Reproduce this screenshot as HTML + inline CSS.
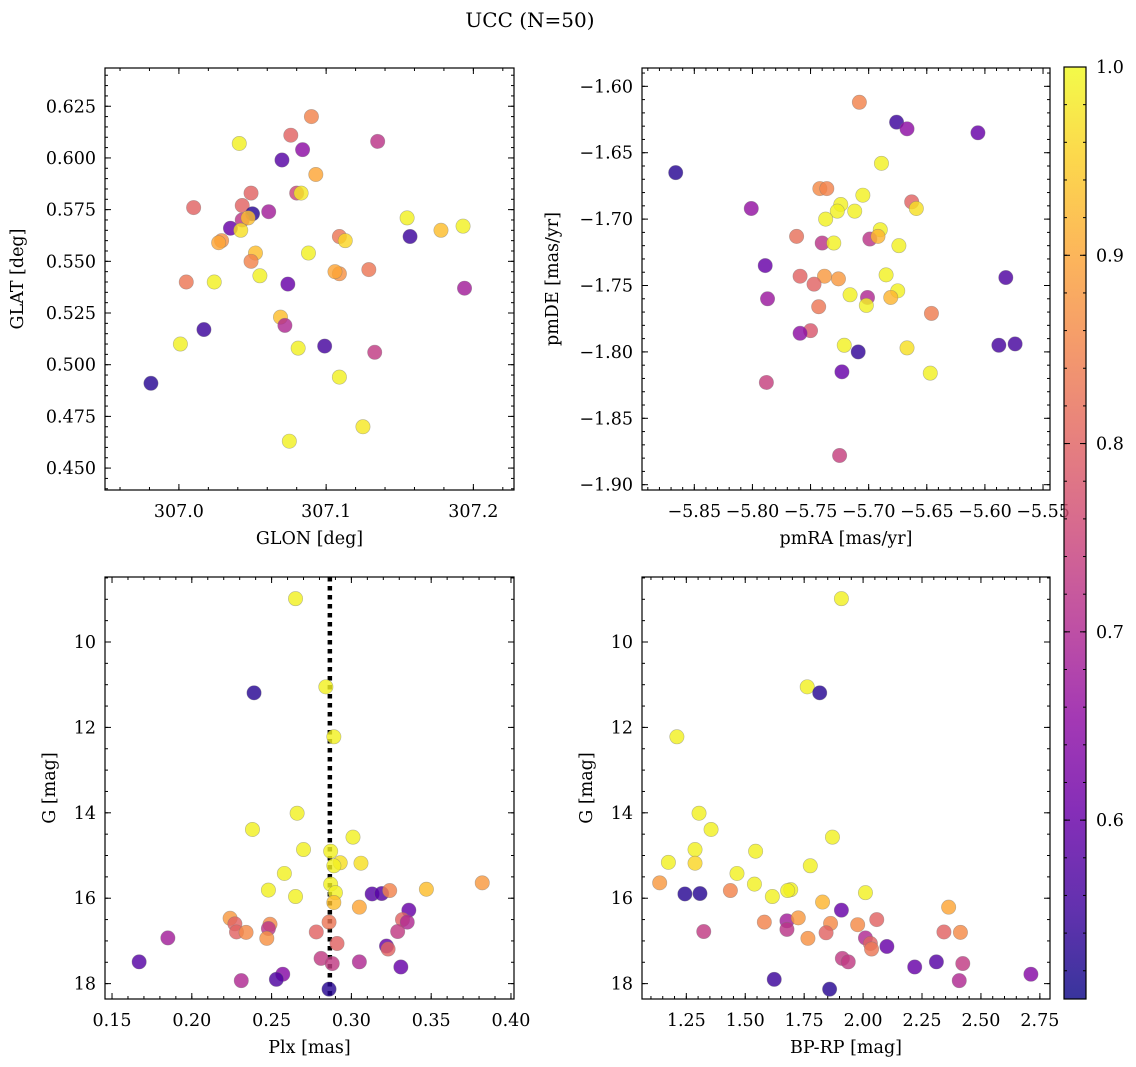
<!DOCTYPE html>
<html><head><meta charset="utf-8">
<style>
html,body{margin:0;padding:0;background:#fff;}
svg{display:block;font-family:"DejaVu Serif","Liberation Serif",serif;}
</style></head>
<body>
<svg id="fig" width="1136" height="1067" viewBox="0 0 1136 1067" xmlns="http://www.w3.org/2000/svg">
<defs>
<linearGradient id="plasma" x1="0" y1="1" x2="0" y2="0">
<stop offset="0" stop-color="#0d0887"/><stop offset="0.1" stop-color="#41049d"/><stop offset="0.2" stop-color="#6a00a8"/><stop offset="0.3" stop-color="#8f0da4"/><stop offset="0.4" stop-color="#b12a90"/><stop offset="0.5" stop-color="#cc4778"/><stop offset="0.6" stop-color="#e16462"/><stop offset="0.7" stop-color="#f2844b"/><stop offset="0.8" stop-color="#fca636"/><stop offset="0.9" stop-color="#fcce25"/><stop offset="1" stop-color="#f0f921"/>
</linearGradient>
</defs>
<text x="530" y="27" font-size="20" text-anchor="middle">UCC (N=50)</text>
</svg>
<script>
// ---- Panel 1: GLON vs GLAT ----
const glon1 = [307.090,307.076,307.041,307.135,307.084,307.070,307.093,307.049,307.080,307.083,307.010,307.043,307.050,307.061,307.043,307.047,307.035,307.042,307.155,307.178,307.193,307.157,307.029,307.027,307.109,307.113,307.088,307.052,307.049,307.005,307.024,307.055,307.109,307.106,307.129,307.074,307.194,307.069,307.072,307.017,307.001,307.081,307.099,307.133,306.981,307.109,307.125,307.075];
const glat1 = [0.620,0.611,0.607,0.608,0.604,0.599,0.592,0.583,0.583,0.583,0.576,0.577,0.573,0.574,0.570,0.571,0.566,0.565,0.571,0.565,0.567,0.562,0.560,0.559,0.562,0.560,0.554,0.554,0.550,0.540,0.540,0.543,0.544,0.545,0.546,0.539,0.537,0.523,0.519,0.517,0.510,0.508,0.509,0.506,0.491,0.494,0.470,0.463];
const prob1 = [0.85,0.80,0.99,0.72,0.65,0.58,0.90,0.80,0.75,0.98,0.80,0.80,0.53,0.68,0.72,0.93,0.60,0.97,0.99,0.93,0.99,0.55,0.87,0.90,0.83,0.96,0.99,0.93,0.85,0.83,0.99,0.99,0.87,0.90,0.83,0.60,0.68,0.93,0.70,0.55,0.99,0.99,0.56,0.73,0.53,0.99,0.98,0.99];
// ---- Panel 2: pmRA vs pmDE ----
const pmra2 = [-5.708,-5.676,-5.667,-5.606,-5.689,-5.866,-5.742,-5.736,-5.705,-5.801,-5.663,-5.659,-5.724,-5.727,-5.712,-5.737,-5.762,-5.690,-5.699,-5.692,-5.740,-5.730,-5.674,-5.789,-5.582,-5.759,-5.738,-5.726,-5.685,-5.747,-5.675,-5.681,-5.716,-5.701,-5.702,-5.787,-5.743,-5.646,-5.750,-5.759,-5.721,-5.709,-5.667,-5.588,-5.574,-5.723,-5.647,-5.788,-5.725];
const pmde2 = [-1.612,-1.627,-1.632,-1.635,-1.658,-1.665,-1.677,-1.677,-1.682,-1.692,-1.687,-1.692,-1.689,-1.694,-1.694,-1.700,-1.713,-1.708,-1.715,-1.713,-1.718,-1.718,-1.720,-1.735,-1.744,-1.743,-1.743,-1.745,-1.742,-1.749,-1.754,-1.759,-1.757,-1.759,-1.765,-1.760,-1.766,-1.771,-1.784,-1.786,-1.795,-1.800,-1.797,-1.795,-1.794,-1.815,-1.816,-1.823,-1.878];
const prob2 = [0.85,0.55,0.65,0.60,0.99,0.53,0.86,0.85,0.99,0.66,0.80,0.97,0.99,0.99,0.99,0.99,0.82,0.99,0.72,0.92,0.72,0.99,0.99,0.60,0.57,0.80,0.88,0.88,0.99,0.80,0.99,0.92,0.99,0.70,0.99,0.67,0.83,0.84,0.78,0.65,0.99,0.54,0.97,0.56,0.56,0.60,0.99,0.74,0.74];
// ---- Panel 3: Plx vs G ----
const plx3 = [0.265,0.239,0.284,0.289,0.266,0.238,0.301,0.270,0.287,0.293,0.306,0.289,0.258,0.382,0.287,0.248,0.347,0.290,0.313,0.319,0.324,0.265,0.289,0.305,0.336,0.224,0.227,0.249,0.286,0.332,0.335,0.248,0.228,0.234,0.278,0.329,0.247,0.185,0.291,0.322,0.323,0.281,0.288,0.305,0.167,0.331,0.257,0.253,0.231,0.286];
const g3 = [8.985,11.19,11.05,12.22,14.01,14.39,14.57,14.86,14.90,15.17,15.18,15.24,15.42,15.64,15.67,15.81,15.79,15.87,15.90,15.89,15.82,15.96,16.10,16.21,16.28,16.47,16.60,16.61,16.56,16.50,16.56,16.71,16.79,16.80,16.79,16.78,16.94,16.93,17.06,17.12,17.19,17.41,17.53,17.49,17.49,17.61,17.78,17.90,17.93,18.13];
const prob3 = [0.99,0.53,0.99,0.99,0.99,0.99,0.99,0.99,0.99,0.97,0.97,0.99,0.99,0.88,0.99,0.99,0.93,0.99,0.58,0.58,0.85,0.99,0.93,0.90,0.60,0.88,0.80,0.86,0.83,0.80,0.70,0.72,0.80,0.86,0.80,0.73,0.87,0.68,0.80,0.60,0.80,0.73,0.73,0.70,0.58,0.60,0.64,0.57,0.70,0.53];
const plxMedian = 0.2865;
// ---- Panel 4: BP-RP vs G ----
const bprp4 = [1.908,1.763,1.816,1.210,1.304,1.355,1.870,1.287,1.544,1.174,1.287,1.776,1.465,1.137,1.539,1.244,1.308,1.437,1.693,1.680,2.010,1.615,1.828,1.908,2.363,1.581,1.677,1.725,1.862,1.977,2.058,1.324,1.677,1.843,2.343,2.413,1.766,2.010,2.031,2.101,2.036,1.912,1.937,2.311,2.423,2.219,2.712,1.623,2.408,1.858];
const g4 = [8.985,11.05,11.19,12.22,14.01,14.39,14.57,14.86,14.90,15.16,15.18,15.24,15.42,15.64,15.67,15.90,15.89,15.82,15.80,15.82,15.87,15.96,16.09,16.28,16.21,16.56,16.53,16.46,16.59,16.62,16.50,16.78,16.73,16.81,16.79,16.80,16.94,16.93,17.06,17.13,17.19,17.41,17.49,17.49,17.53,17.61,17.78,17.90,17.93,18.13];
const prob4 = [0.99,0.99,0.53,0.99,0.99,0.99,0.99,0.99,0.99,0.99,0.96,0.99,0.99,0.88,0.99,0.53,0.53,0.85,0.99,0.99,0.99,0.99,0.92,0.60,0.90,0.85,0.68,0.88,0.86,0.86,0.80,0.73,0.72,0.80,0.80,0.86,0.87,0.70,0.80,0.60,0.83,0.73,0.73,0.58,0.73,0.60,0.64,0.55,0.70,0.53];
// ---- colorbar ----
const cbTicks = [0.6,0.7,0.8,0.9,1.0];
const cbMin = 0.505, cbMax = 1.0;

const NS = "http://www.w3.org/2000/svg";
const fig = document.getElementById('fig');
const stops = [[13,8,135],[65,4,157],[106,0,168],[143,13,164],[177,42,144],[204,71,120],[225,100,98],[242,132,75],[252,166,54],[252,206,37],[240,249,33]];
function plasma(v){
  let t = (v-cbMin)/(cbMax-cbMin); t=Math.max(0,Math.min(1,t));
  const f=t*10, i=Math.min(9,Math.floor(f)), r=f-i;
  const a=stops[i], b=stops[i+1];
  return 'rgb('+a.map((c,k)=>Math.round(c+(b[k]-c)*r)).join(',')+')';
}
function mk(tag, attrs, parent){
  const e=document.createElementNS(NS,tag);
  for(const k in attrs) e.setAttribute(k,attrs[k]);
  (parent||fig).appendChild(e); return e;
}
function fmt(v,d){ return (v<0?'\u2212':'')+Math.abs(v).toFixed(d); }
const FS = 17.5;

function panel(o){
  const {x0,y0,x1,y1,xmin,xmax,ymin,ymax,invertY} = o;
  const sx = v => x0+(v-xmin)/(xmax-xmin)*(x1-x0);
  const sy = invertY ? (v => y0+(v-ymin)/(ymax-ymin)*(y1-y0)) : (v => y1-(v-ymin)/(ymax-ymin)*(y1-y0));
  const g = mk('g',{});
  
  
  if(o.vline!==undefined){
    const l=mk('line',{x1:sx(o.vline),x2:sx(o.vline),y1:y0,y2:y1,stroke:'#000','stroke-width':4.5,'stroke-dasharray':'4.5 4.5'},g);
    
    
  }
  for(let i=0;i<o.xs.length;i++){
    const c=mk('circle',{cx:sx(o.xs[i]),cy:sy(o.ys[i]),r:7.2,fill:plasma(o.ps[i]),'fill-opacity':0.82,stroke:'#777','stroke-opacity':0.5,'stroke-width':0.6},g);
    
    
  }
  mk('rect',{x:x0,y:y0,width:x1-x0,height:y1-y0,fill:'none',stroke:'#000','stroke-width':1.2},g);
  const tk = (axis,step,len,labels,dec) => {
    const lo = axis==='x'?xmin:ymin, hi = axis==='x'?xmax:ymax;
    const k0=Math.ceil(lo/step-1e-6), k1=Math.floor(hi/step+1e-6);
    for(let k=k0;k<=k1;k++){
      const v=k*step;
      if(axis==='x'){
        const p=sx(v);
        mk('line',{x1:p,x2:p,y1:y1,y2:y1-len,stroke:'#000','stroke-width':1},g);
        mk('line',{x1:p,x2:p,y1:y0,y2:y0+len,stroke:'#000','stroke-width':1},g);
        if(labels){ const t=mk('text',{x:p,y:y1+27,'font-size':FS,'text-anchor':'middle'},g); t.textContent=fmt(v,dec);
            }
      } else {
        const p=sy(v);
        mk('line',{x1:x0,x2:x0+len,y1:p,y2:p,stroke:'#000','stroke-width':1},g);
        mk('line',{x1:x1,x2:x1-len,y1:p,y2:p,stroke:'#000','stroke-width':1},g);
        if(labels){ const t=mk('text',{x:x0-9,y:p+6,'font-size':FS,'text-anchor':'end'},g); t.textContent=fmt(v,dec);
            }
      }
    }
  };
  tk('x',o.xmaj,6,true,o.xdec); tk('x',o.xmin_,3,false);
  tk('y',o.ymaj,6,true,o.ydec); tk('y',o.ymin_,3,false);
  const xl=mk('text',{x:(x0+x1)/2,y:y1+54,'font-size':FS,'text-anchor':'middle'},g); xl.textContent=o.xlabel;
   
  const yx=o.ylx, yc=(y0+y1)/2;
  const yl=mk('text',{x:yx,y:yc,'font-size':FS,'text-anchor':'middle',transform:'rotate(-90 '+yx+' '+yc+')'},g); yl.textContent=o.ylabel;
   
}

panel({name:'glon-glat-panel',x0:105,y0:68,x1:514,y1:490,xmin:306.9498,xmax:307.2276,ymin:0.4394,ymax:0.6435,
  xs:glon1,ys:glat1,ps:prob1,xmaj:0.1,xmin_:0.02,ymaj:0.025,ymin_:0.005,xdec:1,ydec:3,xlabel:'GLON [deg]',ylabel:'GLAT [deg]',ylx:23});
panel({name:'pm-panel',x0:642,y0:68,x1:1050,y1:490,xmin:-5.895,xmax:-5.544,ymin:-1.904,ymax:-1.5862,
  xs:pmra2,ys:pmde2,ps:prob2,xmaj:0.05,xmin_:0.01,ymaj:0.05,ymin_:0.01,xdec:2,ydec:2,xlabel:'pmRA [mas/yr]',ylabel:'pmDE [mas/yr]',ylx:558});
panel({name:'plx-g-panel',x0:105,y0:577,x1:514,y1:999,xmin:0.1456,xmax:0.4019,ymin:8.478,ymax:18.36,invertY:true,
  xs:plx3,ys:g3,ps:prob3,vline:plxMedian,xmaj:0.05,xmin_:0.01,ymaj:2,ymin_:0.5,xdec:2,ydec:0,xlabel:'Plx [mas]',ylabel:'G [mag]',ylx:55});
panel({name:'cmd-panel',x0:642,y0:577,x1:1050,y1:999,xmin:1.062,xmax:2.793,ymin:8.478,ymax:18.36,invertY:true,
  xs:bprp4,ys:g4,ps:prob4,xmaj:0.25,xmin_:0.05,ymaj:2,ymin_:0.5,xdec:2,ydec:0,xlabel:'BP-RP [mag]',ylabel:'G [mag]',ylx:592});

(function(){
  const x0=1064,x1=1086,y0=67,y1=999;
  const g=mk('g',{});
  
  
  mk('rect',{x:x0,y:y0,width:x1-x0,height:y1-y0,fill:'url(#plasma)','fill-opacity':0.82},g);
  mk('rect',{x:x0,y:y0,width:x1-x0,height:y1-y0,fill:'none',stroke:'#000','stroke-width':1.2},g);
  const sy=v=>y1-(v-cbMin)/(cbMax-cbMin)*(y1-y0);
  for(let k=Math.ceil(cbMin/0.02);k<=Math.floor(cbMax/0.02+1e-6);k++){
    const p=sy(k*0.02);
    mk('line',{x1:x1,x2:x1-3,y1:p,y2:p,stroke:'#000','stroke-width':1},g);
    mk('line',{x1:x0,x2:x0+3,y1:p,y2:p,stroke:'#000','stroke-width':1},g);
  }
  cbTicks.forEach(v=>{
    const p=sy(v);
    mk('line',{x1:x1,x2:x1-6,y1:p,y2:p,stroke:'#000','stroke-width':1},g);
    mk('line',{x1:x0,x2:x0+6,y1:p,y2:p,stroke:'#000','stroke-width':1},g);
    const t=mk('text',{x:x1+10,y:p+6,'font-size':FS},g); t.textContent=v.toFixed(1);
    
    
  });
})();
</script>
</body></html>
